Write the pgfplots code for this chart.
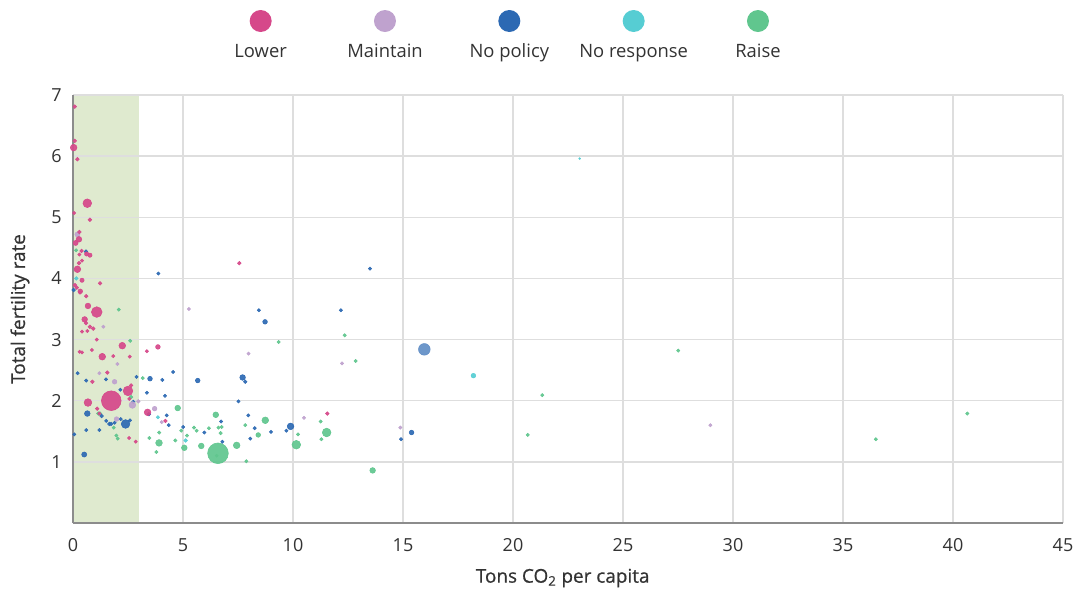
\documentclass[border=0pt]{standalone}
\usepackage{fontspec}
\setmainfont{Open Sans}
\newfontfamily\labfont{Open Sans}[FakeBold=0.6]
\usepackage{pgfplots}
\usepackage{pgfplotstable}
\pgfplotsset{compat=1.18}
\definecolor{cLower}{HTML}{D6488A}
\definecolor{cMaint}{HTML}{BFA2CE}
\definecolor{cNoPol}{HTML}{2C69B3}
\definecolor{cNoRes}{HTML}{56CDD3}
\definecolor{cRaise}{HTML}{60C68E}
\definecolor{cBand}{HTML}{DFEACF}
\definecolor{cGrid}{HTML}{DEDEDE}
\definecolor{cAxis}{HTML}{8C8C8C}
\definecolor{cText}{HTML}{333333}

\pgfplotstableread{
x y r
0.08 6.81 1.5
0.08 6.25 1.5
0.03 6.14 3
0.2 5.95 1.5
0.65 5.23 4
0.05 5.07 1.3
0.77 4.96 1.5
0.29 4.76 1.5
0.27 4.64 2.5
0.12 4.58 2.2
0.39 4.45 1.5
0.62 4.40 1.8
0.77 4.38 1.8
0.29 4.39 1.3
0.41 4.29 1.3
0.27 4.25 1.5
0.2 4.15 3
0.41 3.97 1.8
0.09 3.89 1.5
0.17 3.85 1.5
0.33 3.79 2
1.23 3.92 1.5
0.6 3.71 1.5
0.32 3.77 1.5
0.68 3.55 2.5
1.08 3.45 5
0.53 3.33 2.5
0.59 3.27 1.5
0.77 3.21 1.5
0.92 3.18 1.5
0.41 3.13 1.3
0.65 3.14 1.3
1.08 3.00 1.3
2.24 2.90 3
0.3 2.80 1.3
0.41 2.79 1.3
0.86 2.83 1.3
1.33 2.72 3
1.83 2.73 1.3
2.58 2.72 1.3
3.36 2.81 1.3
3.86 2.88 2
1.56 2.46 1.5
0.88 2.31 1.5
2.64 2.25 1.5
2.50 2.16 4.5
1.74 2.00 9.5
0.68 1.97 3.5
1.10 1.87 1.5
1.2 1.79 1.3
3.39 1.81 3
4.20 1.67 1.5
2.55 1.39 1.3
2.85 1.33 1.3
7.56 4.25 1.5
11.56 1.79 1.5
2.56 2.03 1.3
}\tLower

\pgfplotstableread{
x y r
0.2 4.72 2.2
1.38 3.21 1.3
2.02 2.60 1.3
1.2 2.45 1.3
1.89 2.31 2
2.97 1.99 1.5
2.7 1.93 3
3.71 1.87 2
1.98 1.70 2
4.03 1.65 1.3
5.27 3.50 1.3
7.98 2.77 1.3
10.5 1.72 1.3
12.23 2.61 1.3
14.88 1.56 1.3
28.97 1.60 1.3
}\tMaint

\pgfplotstableread{
x y r
0.59 4.44 1.5
0.03 3.81 1.5
3.88 4.08 1.3
0.21 2.45 1.3
0.6 2.33 1.3
1.5 2.35 1.3
2.89 2.39 1.3
3.5 2.36 2
4.06 2.34 1.3
4.55 2.47 1.3
2.15 2.18 1.3
2.74 1.98 1.5
3.36 2.13 1.3
4.18 2.08 1.3
3.45 1.78 1.5
0.65 1.79 2.5
1.3 1.75 1.5
2.17 1.70 1.3
1.51 1.67 1.3
1.65 1.62 1.5
1.73 1.62 1.5
1.89 1.64 1.3
2.39 1.62 4
2.59 1.68 1.3
4.26 1.76 1.3
4.35 1.60 1.3
0.6 1.52 1.3
1.2 1.52 1.3
0.06 1.45 1.3
0.51 1.12 2.2
8.45 3.48 1.3
8.73 3.29 2
5.67 2.33 2
7.71 2.38 2.5
7.83 2.31 1.5
7.52 1.99 1.3
7.97 1.76 1.3
6.73 1.66 1.3
9.89 1.58 3
9.7 1.51 1.3
8.26 1.55 1.3
5.01 1.57 1.3
5.97 1.48 1.3
9.0 1.49 1.3
8.06 1.38 1.3
6.79 1.33 1.3
13.5 4.16 1.3
12.18 3.48 1.3
15.39 1.48 2
14.91 1.37 1.3
}\tNoPol

\pgfplotstableread{
x y r
15.97 2.84 5.5
}\tNoPolBig

\pgfplotstableread{
x y r
0.15 4.0 1.5
3.86 1.73 1.3
5.12 1.35 1.5
18.2 2.41 2
23.03 5.96 0.6
}\tNoRes

\pgfplotstableread{
x y r
6.59 1.14 10
0.14 4.46 1.3
2.08 3.49 1.3
2.6 2.98 1.3
3.17 2.37 1.3
2.64 2.06 1.5
4.76 1.88 2.5
1.15 1.79 1.5
1.23 1.79 1.5
1.85 1.56 1.3
1.97 1.43 1.3
2.03 1.38 1.3
3.47 1.39 1.3
3.92 1.48 1.3
3.91 1.31 3
4.65 1.35 1.3
3.79 1.16 1.3
9.35 2.96 1.3
6.49 1.77 2.5
8.74 1.68 3
7.83 1.60 1.3
5.5 1.56 1.3
5.62 1.51 1.3
6.18 1.55 1.3
6.61 1.56 1.3
6.76 1.57 1.3
4.92 1.51 1.3
6.71 1.47 1.3
11.53 1.48 4
10.23 1.45 1.3
8.42 1.44 2
5.18 1.43 1.3
11.29 1.37 1.3
5.06 1.23 2.5
5.83 1.26 2.5
7.44 1.27 3
10.15 1.28 4
6.53 1.10 1.2
7.88 1.01 1.3
12.35 3.07 1.3
12.85 2.65 1.3
11.26 1.66 1.3
21.33 2.09 1.3
20.67 1.44 1.3
13.62 0.86 2.5
27.51 2.82 1.3
36.49 1.37 1.3
40.65 1.79 1.3
}\tRaise

\pgfplotstableread{
x y
0 0
3 0
3 7
0 7
}\tBand

\pgfplotsset{
  bubbles/.style={
    scatter, only marks, mark=*, color=#1,
    mark options={draw=none, fill=#1},
    scatter/use mapped color={draw=none, fill=#1},
    visualization depends on={0.75*\thisrow{r}+0.25 \as \rr},
    scatter/@pre marker code/.append style={/tikz/mark size=\rr},
    fill opacity=0.92, forget plot
  },
}

\begin{document}
\begin{tikzpicture}
\begin{axis}[
  set layers,
  at={(0,0)}, anchor=south west,
  scale only axis, width=742.5pt, height=321pt,
  xmin=0, xmax=45, ymin=0, ymax=7,
  xtick={0,5,...,45}, ytick={1,...,7},
  grid=major,
  major grid style={draw=cGrid, line width=1.1pt},
  major tick length=0pt,
  axis x line*=bottom, axis y line*=left,
  axis line style={draw=cAxis, line width=1.5pt, -},
  font=\fontsize{13.5}{16}\selectfont,
  /pgf/number format/assume math mode=true,
  ticklabel style={text=cText, font=\fontsize{13.5}{16}\selectfont},
  xticklabel style={yshift=-8pt},
  yticklabel style={xshift=-5pt},
  xlabel={Tons CO\textsubscript{2} per capita},
  ylabel={Total fertility rate},
  every axis x label/.style={at={(axis description cs:0.5,0)}, anchor=center, yshift=-41.25pt, xshift=-4pt, text=cText, font=\labfont\fontsize{14.2}{17}\selectfont},
  every axis y label/.style={at={(axis description cs:0,0.5)}, xshift=-39.75pt, anchor=center, rotate=90, text=cText, font=\labfont\fontsize{14.2}{17}\selectfont},
  legend columns=5,
  legend style={at={(axis description cs:0.4414,1)}, anchor=south, yshift=23pt,
    draw=none, fill=none, inner sep=0pt, outer sep=0pt,
    /tikz/every even column/.style={column sep=0pt},
    nodes={inner sep=0pt, outer sep=0pt}},
]
\addplot[on layer=axis background, fill=cBand, draw=none, forget plot] table[x=x,y=y] {\tBand} -- cycle;

\addplot[bubbles=cRaise] table[x=x,y=y] {\tRaise};
\addplot[bubbles=cNoRes] table[x=x,y=y] {\tNoRes};
\addplot[bubbles=cNoPol!75!white] table[x=x,y=y] {\tNoPolBig};
\addplot[bubbles=cNoPol] table[x=x,y=y] {\tNoPol};
\addplot[bubbles=cMaint] table[x=x,y=y] {\tMaint};
\addplot[bubbles=cLower] table[x=x,y=y] {\tLower};

\addlegendimage{legend image code/.code={
  \path[draw=none,fill=none] (-46.125pt,-10pt) rectangle (46.125pt,34pt);
  \fill[cLower,draw=none] (0,22.5pt) circle (8.25pt);
  \node[text=cText, inner sep=0pt, draw=none, anchor=base, font=\fontsize{13.8}{16}\selectfont] at (0,-4.8pt) {Lower};}}
\addlegendentry{}
\addlegendimage{legend image code/.code={
  \path[draw=none,fill=none] (-46.125pt,-10pt) rectangle (46.125pt,34pt);
  \fill[cMaint,draw=none] (0,22.5pt) circle (8.25pt);
  \node[text=cText, inner sep=0pt, draw=none, anchor=base, font=\fontsize{13.8}{16}\selectfont] at (0,-4.8pt) {Maintain};}}
\addlegendentry{}
\addlegendimage{legend image code/.code={
  \path[draw=none,fill=none] (-46.125pt,-10pt) rectangle (46.125pt,34pt);
  \fill[cNoPol,draw=none] (0,22.5pt) circle (8.25pt);
  \node[text=cText, inner sep=0pt, draw=none, anchor=base, font=\fontsize{13.8}{16}\selectfont] at (0,-4.8pt) {No policy};}}
\addlegendentry{}
\addlegendimage{legend image code/.code={
  \path[draw=none,fill=none] (-46.125pt,-10pt) rectangle (46.125pt,34pt);
  \fill[cNoRes,draw=none] (0,22.5pt) circle (8.25pt);
  \node[text=cText, inner sep=0pt, draw=none, anchor=base, font=\fontsize{13.8}{16}\selectfont] at (0,-4.8pt) {No response};}}
\addlegendentry{}
\addlegendimage{legend image code/.code={
  \path[draw=none,fill=none] (-46.125pt,-10pt) rectangle (46.125pt,34pt);
  \fill[cRaise,draw=none] (0,22.5pt) circle (8.25pt);
  \node[text=cText, inner sep=0pt, draw=none, anchor=base, font=\fontsize{13.8}{16}\selectfont] at (0,-4.8pt) {Raise};}}
\addlegendentry{}
\end{axis}
\pgfresetboundingbox
\path (-54.75pt,-49.5pt) rectangle (750.75pt,392.25pt);
\end{tikzpicture}
\end{document}
